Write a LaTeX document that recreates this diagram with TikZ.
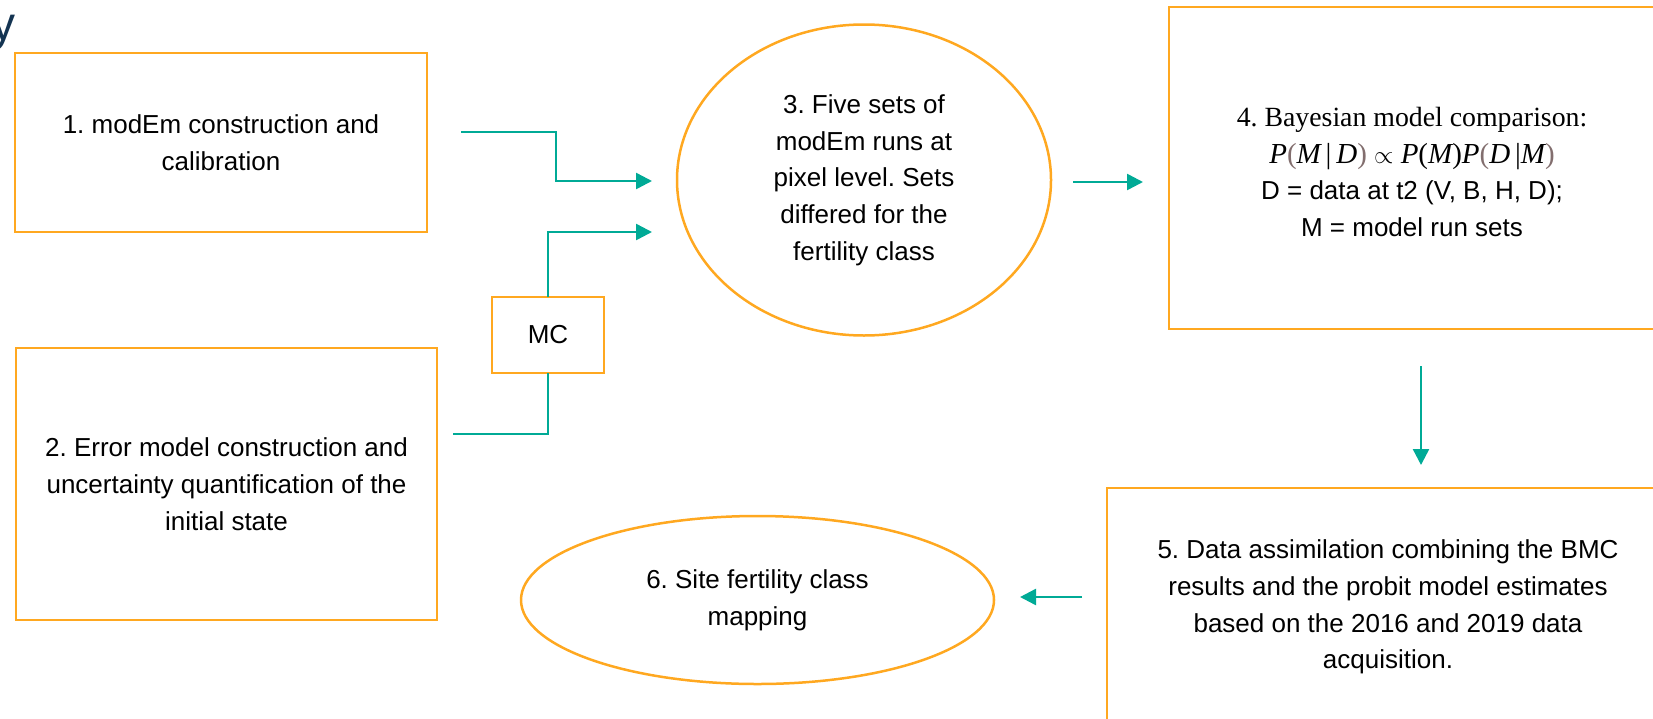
\documentclass[tikz,border=0pt]{standalone}
\usepackage{fontspec}
\setmainfont{Liberation Sans}
\newfontfamily\serifont{Liberation Serif}
\usetikzlibrary{arrows.meta,shapes.geometric}

\definecolor{orng}{RGB}{255,168,32}
\definecolor{teal}{RGB}{0,170,150}
\definecolor{navy}{RGB}{20,52,82}
\definecolor{parcol}{RGB}{130,110,110}

\tikzset{
  stepbox/.style={draw=orng, line width=2.5pt, rectangle, inner sep=0pt, outer sep=0pt, align=center,
    font=\fontsize{26}{36.7}\selectfont},
  stepoval/.style={draw=orng, line width=2.5pt, ellipse, inner sep=0pt, outer sep=0pt, align=center,
    font=\fontsize{26}{36.7}\selectfont},
  flow/.style={draw=teal, line width=2.5pt, -{Triangle[length=16pt,width=16pt]}},
  link/.style={draw=teal, line width=2.5pt}
}
\newcommand{\pp}[1]{\textcolor{parcol}{\upshape#1}}
\newcommand{\vv}[1]{\itshape#1}
\frenchspacing

\begin{document}
\begin{tikzpicture}[x=1pt,y=-1pt]
    \useasboundingbox (0,0) rectangle (1653,718);
    \clip (0,0) rectangle (1653,718);

    % Nodes
    \node[stepbox, minimum width=412pt, minimum height=179pt] (box1) at (221,142.5)
        {1. modEm construction and\\calibration};
    \node[stepbox, minimum width=421pt, minimum height=272pt] (box2) at (226.5,484)
        {2. Error model construction and\\uncertainty quantification of the\\initial state};
    \node[stepbox, minimum width=112pt, minimum height=76pt] (mc) at (548,335) {MC};
    \node[stepoval, minimum width=374pt, minimum height=311pt] (oval3) at (864,180)
        {3. Five sets of\\modEm runs at\\pixel level. Sets\\differed for the\\fertility class};
    \node[stepbox, minimum width=600pt, minimum height=322pt] (box4) at (1469,168) {};
    \node[stepbox, minimum width=700pt, minimum height=300pt] (box5) at (1457,638) {};
    \node[stepoval, minimum width=473pt, minimum height=168pt] (oval6) at (757.5,600)
        {6. Site fertility class\\mapping};

    % Text
    \node[align=center, font=\fontsize{26}{36.7}\selectfont] (txt4) at (1412,172)
        {{\serifont\fontsize{27.8}{36.7}\selectfont 4. Bayesian model comparison:}\\
         {\serifont\fontsize{29}{36.7}\selectfont\itshape P\pp{(}M\,\upshape|\,\itshape D\pp{)}
          $\propto$ P\upshape(\itshape M\upshape)\itshape P\pp{(}D\,\upshape|\itshape M\pp{)}}\\
         D = data at t2 (V, B, H, D);\\
         M = model run sets};
    \node[align=center, font=\fontsize{26}{36.7}\selectfont] (txt5) at (1388,607)
        {5. Data assimilation combining the BMC\\results and the probit model estimates\\based on the 2016 and 2019 data\\acquisition.};
    \node[anchor=base east, inner sep=0pt, text=navy, font=\fontsize{48}{48}\selectfont] (title) at (16,40) {y};

    % Connection
    \coordinate (in1) at (461,132);
    \coordinate (bend1) at (556,181);
    \coordinate (in2) at (453,434);
    \coordinate (down4) at (1421,366);
    \draw[flow] (in1) -| (bend1) -- ([xshift=-25pt]bend1 -| oval3.west);
    \draw[flow] (mc.north) |- ([xshift=-25pt,yshift=-52pt]oval3.west);
    \draw[link] (in2) -| (mc.south);
    \draw[flow] ([xshift=22pt,yshift=-2pt]oval3.east) -- ([xshift=-26pt,yshift=-2pt]oval3.east -| box4.west);
    \draw[flow] (down4) -- ([yshift=23pt]down4 |- box5.north);
    \draw[flow] ([xshift=-25pt,yshift=3pt]box5.west |- oval6.east) -- ([xshift=26pt,yshift=3pt]oval6.east);
\end{tikzpicture}
\end{document}
